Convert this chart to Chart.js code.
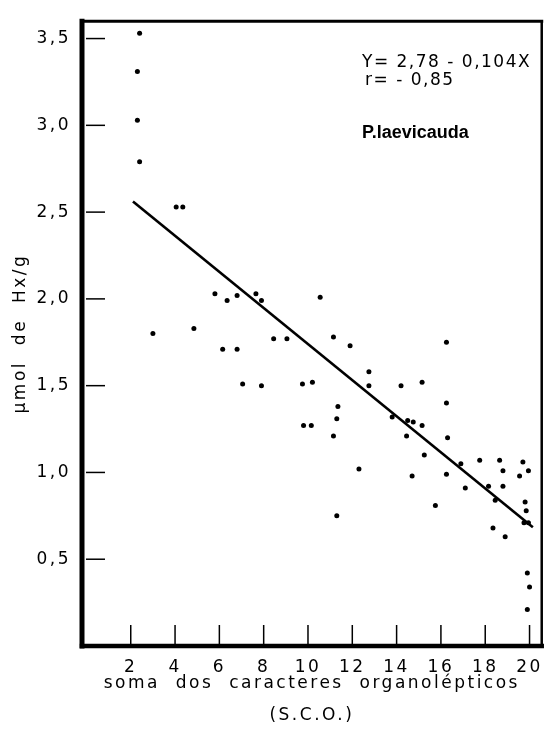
<!DOCTYPE html>
<html>
<head>
<meta charset="utf-8">
<script src="https://cdn.jsdelivr.net/npm/chart.js@4.4.1/dist/chart.umd.min.js"></script>
<style>
  html, body { margin: 0; padding: 0; background: #fff; }
  canvas { display: block; }
</style>
</head>
<body>
<canvas id="myChart" width="554" height="729"></canvas>
<script>
// soma dos caracteres organolépticos (S.C.O.) and µmol de Hx/g per sample
const scoX = [
    2.4, 2.3, 2.3, 2.4, 4.05, 4.35, 3.0, 4.85, 5.8, 6.35,
    6.8, 7.65, 7.9, 6.15, 6.8, 7.05, 7.9, 8.45, 9.05, 9.75,
    10.2, 10.55, 11.15, 11.9, 9.8, 10.15, 11.15, 11.3, 11.35, 11.3,
    12.3, 12.75, 12.75, 13.8, 14.2, 14.45, 14.5, 14.75, 15.15, 15.15,
    15.25, 14.7, 15.75, 16.25, 16.25, 16.3, 16.25, 16.9, 17.1, 17.75,
    18.15, 18.45, 18.35, 18.65, 18.8, 18.8, 18.9, 19.55, 19.7, 19.95,
    19.8, 19.85, 19.75, 19.95, 19.9, 20.0, 19.9
];
const hxY = [
    3.53, 3.31, 3.03, 2.79, 2.53, 2.53, 1.80, 1.83, 2.03, 1.99,
    2.02, 2.03, 1.99, 1.71, 1.71, 1.51, 1.50, 1.77, 1.77, 1.51,
    1.52, 2.01, 1.78, 1.73, 1.27, 1.27, 1.21, 1.31, 1.38, 0.75,
    1.02, 1.58, 1.50, 1.32, 1.50, 1.21, 1.30, 1.29, 1.27, 1.52,
    1.10, 0.98, 0.81, 1.75, 1.40, 1.20, 0.99, 1.05, 0.91, 1.07,
    0.92, 0.84, 0.68, 1.07, 1.01, 0.92, 0.63, 0.98, 1.06, 1.01,
    0.83, 0.78, 0.71, 0.71, 0.42, 0.34, 0.21
];

const xTicks = [2, 4, 6, 8, 10, 12, 14, 16, 18, 20];
const yTicks = [0.5, 1.0, 1.5, 2.0, 2.5, 3.0, 3.5];

// regression Y = 2,78 - 0,104X, drawn over the sampled range
const intercept = 2.78;
const slope = -0.104;
const lineX = [2.1, 20.15];

const equationLines = ['Y= 2,78 - 0,104X', 'r= - 0,85'];
const speciesLabel = 'P.laevicauda';

const fontFamily = '"DejaVu Sans", sans-serif';

// wide lettering for all axis text
const spacing = {
    id: 'spacing',
    beforeLayout(chart) { chart.ctx.letterSpacing = '2.5px'; },
    beforeDraw(chart) { chart.ctx.letterSpacing = '2.5px'; }
};

// heavy frame, inward tick marks and the equation block
const frame = {
    id: 'frame',
    afterDraw(chart) {
        const ctx = chart.ctx;
        const a = chart.chartArea;
        const xs = chart.scales.x;
        const ys = chart.scales.y;
        ctx.save();
        ctx.strokeStyle = '#000';
        ctx.lineCap = 'square';

        ctx.lineWidth = 5;
        ctx.beginPath(); ctx.moveTo(a.left, a.top); ctx.lineTo(a.left, a.bottom); ctx.stroke();
        ctx.lineWidth = 4.5;
        ctx.beginPath(); ctx.moveTo(a.left, a.bottom); ctx.lineTo(a.right, a.bottom); ctx.stroke();
        ctx.lineWidth = 3;
        ctx.beginPath(); ctx.moveTo(a.left, a.top); ctx.lineTo(a.right, a.top); ctx.stroke();
        ctx.lineWidth = 2.5;
        ctx.beginPath(); ctx.moveTo(a.right, a.top); ctx.lineTo(a.right, a.bottom); ctx.stroke();

        ctx.lineWidth = 1.5;
        ctx.lineCap = 'butt';
        yTicks.forEach(v => {
            const py = ys.getPixelForValue(v);
            ctx.beginPath(); ctx.moveTo(a.left + 4, py); ctx.lineTo(a.left + 23, py); ctx.stroke();
        });
        xTicks.forEach(v => {
            const px = xs.getPixelForValue(v);
            ctx.beginPath(); ctx.moveTo(px, a.bottom - 21); ctx.lineTo(px, a.bottom - 2); ctx.stroke();
        });

        ctx.fillStyle = '#000';
        ctx.textBaseline = 'middle';
        ctx.textAlign = 'left';
        ctx.letterSpacing = '1.5px';
        ctx.font = '17px ' + fontFamily;
        ctx.fillText(equationLines[0], a.left + 280, a.top + 41);
        ctx.fillText(equationLines[1], a.left + 283, a.top + 59);
        ctx.letterSpacing = '0px';
        ctx.font = 'bold 18px "Liberation Sans", Arial, sans-serif';
        ctx.fillText(speciesLabel, a.left + 280, a.top + 112);
        ctx.restore();
    }
};

const config = {
    type: 'scatter',
    data: {
        datasets: [{
            type: 'scatter',
            data: scoX.map((x, i) => ({ x: x, y: hxY[i] })),
            backgroundColor: '#000',
            borderWidth: 0,
            pointRadius: 2.5,
            pointHoverRadius: 2.5
        }, {
            type: 'line',
            data: lineX.map(x => ({ x: x, y: intercept + slope * x })),
            showLine: true,
            borderColor: '#000',
            borderWidth: 2.6,
            pointRadius: 0,
            fill: false
        }]
    },
    options: {
        responsive: false,
        animation: false,
        layout: {
            padding: { top: 10.5, right: 5.5, left: 0, bottom: 0 }
        },
        plugins: {
            legend: { display: false },
            tooltip: { enabled: false }
        },
        scales: {
            x: {
                type: 'linear',
                min: -0.2,
                max: 20.55,
                grid: { display: false, drawTicks: false },
                border: { display: false },
                afterBuildTicks: s => { s.ticks = xTicks.map(v => ({ value: v })); },
                afterFit: s => { s.height = 83; },
                ticks: {
                    color: '#000',
                    font: { family: fontFamily, size: 17 },
                    padding: 11,
                    maxRotation: 0,
                    autoSkip: false
                },
                title: {
                    display: true,
                    text: ['soma  dos  caracteres  organolépticos', '(S.C.O.)'],
                    color: '#000',
                    font: { family: fontFamily, size: 17, lineHeight: 1.9 },
                    padding: { top: 0, bottom: -3 }
                }
            },
            y: {
                min: 0,
                max: 3.6,
                grid: { display: false, drawTicks: false },
                border: { display: false },
                afterBuildTicks: s => { s.ticks = yTicks.map(v => ({ value: v })); },
                afterFit: s => { s.width = 82; },
                ticks: {
                    color: '#000',
                    font: { family: fontFamily, size: 17 },
                    padding: 11,
                    callback: v => v.toFixed(1).replace('.', ',')
                },
                title: {
                    display: true,
                    text: 'µmol  de  Hx/g',
                    color: '#000',
                    font: { family: fontFamily, size: 17 },
                    padding: { top: 10, bottom: 0 }
                }
            }
        }
    },
    plugins: [spacing, frame]
};

const ctx = document.getElementById('myChart').getContext('2d');
const myChart = new Chart(ctx, config);
</script>
</body>
</html>
